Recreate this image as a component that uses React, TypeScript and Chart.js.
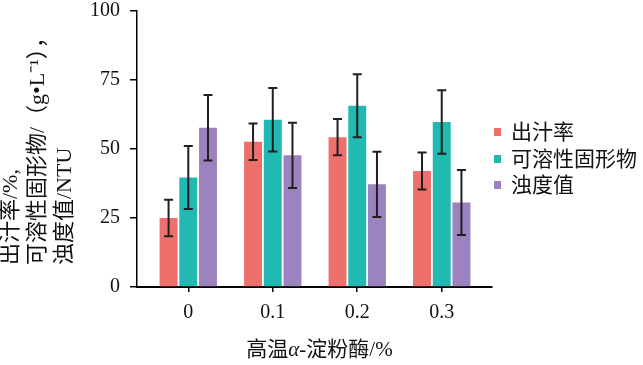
import React, { useEffect, useRef } from "react";
import { Chart, registerables } from "chart.js";

Chart.register(...registerables);

const categories = ["0", "0.1", "0.2", "0.3"];
const seriesNames = ["出汁率", "可溶性固形物", "浊度值"];
const juiceRate = [25.0, 52.6, 54.3, 42.0];
const juiceRateErr = [6.6, 6.6, 6.6, 6.7];
const solubleSolids = [39.7, 60.6, 65.7, 59.8];
const solubleSolidsErr = [11.4, 11.5, 11.4, 11.5];
const turbidity = [57.7, 47.7, 37.2, 30.6];
const turbidityErr = [11.9, 11.8, 11.8, 11.8];
const yTicks = [0, 25, 50, 75, 100];

const colors = ["#EE706D", "#22B9B3", "#9C82BF"];
const values = [juiceRate, solubleSolids, turbidity];
const errors = [juiceRateErr, solubleSolidsErr, turbidityErr];

const FAMILY = "'Liberation Serif', 'Noto Sans CJK SC', serif";
const INK = "#111";

const errorBarPlugin = {
  id: "errorBars",
  afterDatasetsDraw(chart: any) {
    const ctx = chart.ctx;
    const y = chart.scales.y;
    ctx.save();
    ctx.strokeStyle = "#231F20";
    ctx.lineWidth = 2;
    chart.data.datasets.forEach((ds: any, di: number) => {
      const meta = chart.getDatasetMeta(di);
      meta.data.forEach((bar: any, i: number) => {
        const v = values[di][i];
        const e = errors[di][i];
        const top = y.getPixelForValue(v + e);
        const bot = y.getPixelForValue(v - e);
        const x = bar.x;
        const cap = 4.5;
        ctx.beginPath();
        ctx.moveTo(x, top);
        ctx.lineTo(x, bot);
        ctx.moveTo(x - cap, top);
        ctx.lineTo(x + cap, top);
        ctx.moveTo(x - cap, bot);
        ctx.lineTo(x + cap, bot);
        ctx.stroke();
      });
    });
    ctx.restore();
  },
};

const textPlugin = {
  id: "texts",
  afterDraw(chart: any) {
    const ctx = chart.ctx;
    ctx.save();
    ctx.fillStyle = INK;
    // Legend
    ctx.font = `21px ${FAMILY}`;
    ctx.textBaseline = "middle";
    ctx.textAlign = "left";
    const rows = [132, 159, 185];
    seriesNames.forEach((name, i) => {
      ctx.fillStyle = colors[i];
      ctx.fillRect(494, rows[i] - 4, 7, 8);
      ctx.fillStyle = INK;
      ctx.fillText(name, 511, rows[i] + 1);
    });
    // X title with italic alpha
    const segs = [
      { t: "高温", f: `21px ${FAMILY}` },
      { t: "α", f: `italic 21px ${FAMILY}` },
      { t: "-淀粉酶/%", f: `21px ${FAMILY}` },
    ];
    let total = 0;
    segs.forEach((s) => {
      ctx.font = s.f;
      total += ctx.measureText(s.t).width;
    });
    let x = 319.5 - total / 2;
    ctx.textBaseline = "alphabetic";
    segs.forEach((s) => {
      ctx.font = s.f;
      ctx.fillText(s.t, x, 356);
      x += ctx.measureText(s.t).width;
    });
    // Y title, three rotated lines
    const lines = ["出汁率/%,", "可溶性固形物/（g•L⁻¹），", "浊度值/NTU"];
    const xs = [11, 38, 65];
    ctx.font = `22px ${FAMILY}`;
    ctx.textBaseline = "middle";
    lines.forEach((l, i) => {
      ctx.save();
      ctx.translate(xs[i], 265);
      ctx.rotate(-Math.PI / 2);
      ctx.textAlign = "left";
      ctx.fillText(l, 0, 0);
      ctx.restore();
    });
    ctx.restore();
  },
};

export default function App() {
  const ref = useRef<HTMLCanvasElement>(null);
  useEffect(() => {
    if (!ref.current) return;
    const chart = new Chart(ref.current, {
      type: "bar",
      data: {
        datasets: seriesNames.map((name, di) => ({
          label: name,
          data: categories.map((_, i) => ({ x: i, y: values[di][i] })),
          backgroundColor: colors[di],
          borderWidth: 0,
          categoryPercentage: 0.7,
          barPercentage: 0.91,
        })),
      },
      options: {
        animation: false,
        responsive: false,
        layout: { padding: { top: 11, right: 151, left: 0, bottom: 0 } },
        plugins: { legend: { display: false }, tooltip: { enabled: false } },
        scales: {
          x: {
            type: "linear",
            offset: false,
            min: -0.607,
            max: 3.595,
            afterBuildTicks: (s: any) => {
              s.ticks = categories.map((_, i) => ({ value: i }));
            },
            afterFit: (s: any) => {
              s.height = 78;
              s.paddingLeft = 0;
              s.paddingRight = 0;
            },
            ticks: {
              callback: (v: any) => categories[v] ?? "",
              font: { family: FAMILY, size: 20, lineHeight: 1 },
              color: INK,
              padding: 11,
              autoSkip: false,
              maxRotation: 0,
            },
            grid: { offset: false, drawOnChartArea: false, tickLength: 5, color: "#000", lineWidth: 1.5 },
            border: { color: "#000", width: 2 },
          },
          y: {
            min: 0,
            max: 100,
            afterBuildTicks: (s: any) => {
              s.ticks = yTicks.map((v) => ({ value: v }));
            },
            afterFit: (s: any) => {
              s.width = 137;
              s.paddingTop = 0;
              s.paddingBottom = 0;
            },
            ticks: {
              font: { family: FAMILY, size: 20, lineHeight: 1 },
              color: INK,
              padding: 10,
            },
            grid: { drawOnChartArea: false, tickLength: 7, color: "#000", lineWidth: 1.5 },
            border: { color: "#000", width: 1.5 },
          },
        },
      } as any,
      plugins: [errorBarPlugin, textPlugin],
    });
    return () => chart.destroy();
  }, []);
  return (
    <div style={{ position: "absolute", left: 0, top: 0, width: 643, height: 365, background: "#fff" }}>
      <canvas ref={ref} width={643} height={365} />
    </div>
  );
}
